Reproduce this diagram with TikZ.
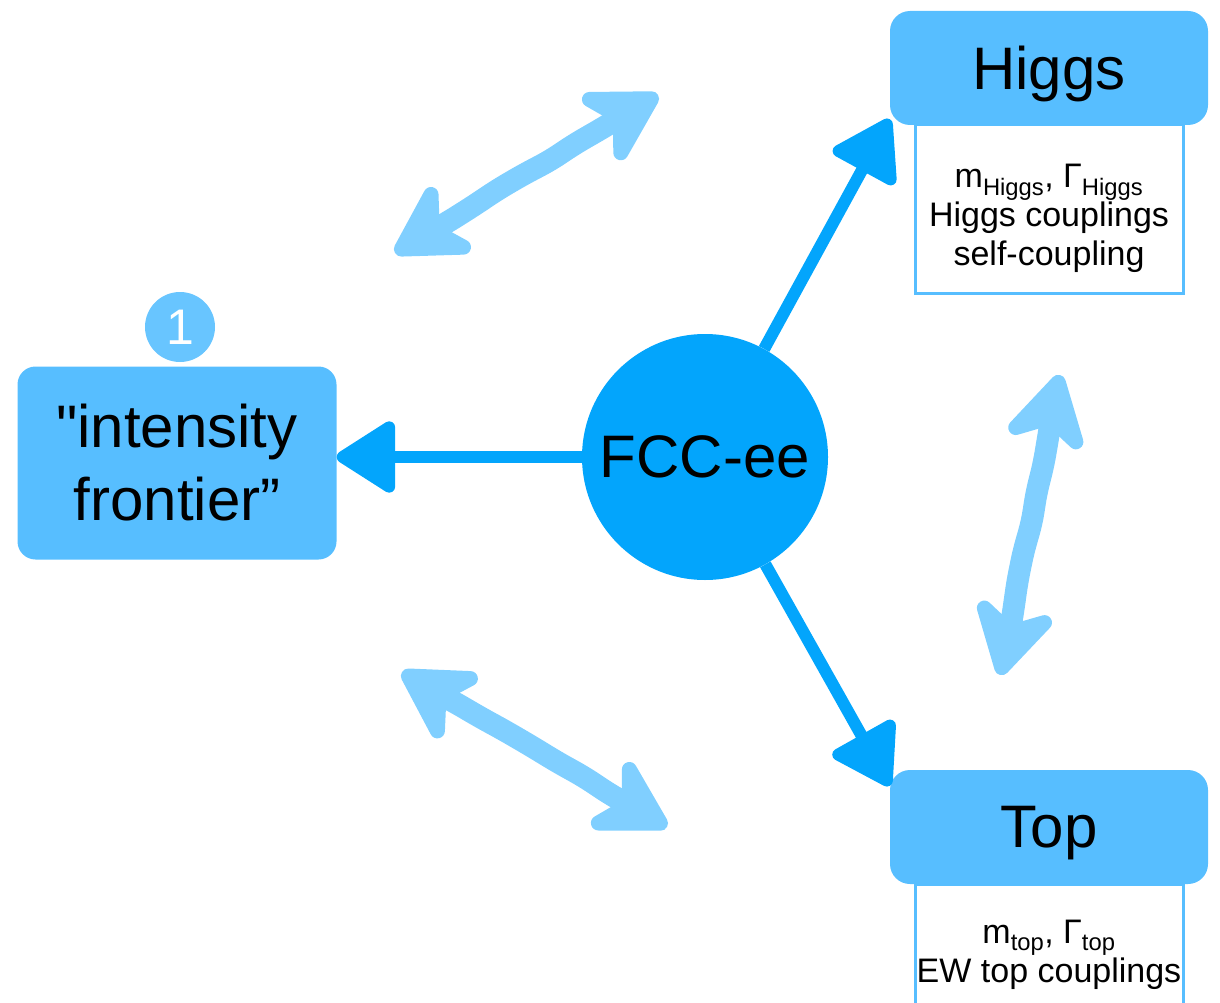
\documentclass[tikz,border=0pt]{standalone}
\usepackage{fontspec}
\setmainfont{Liberation Sans}[Ligatures=TeXOff]
\usepackage{tikz}
\usetikzlibrary{arrows.meta,decorations.pathmorphing}
\definecolor{boxBlue}{RGB}{87, 190, 255}
\definecolor{dotBlue}{RGB}{104, 197, 255}
\definecolor{coreBlue}{RGB}{3, 165, 252}
\definecolor{paleBlue}{RGB}{128, 207, 255}

\begin{document}
\begin{tikzpicture}[x=1pt,y=-1pt,
    headbox/.style={rectangle, rounded corners=20pt, fill=boxBlue, minimum width=318, minimum height=114, text depth=0pt, font=\fontsize{60}{72}\selectfont},
    infobox/.style={rectangle, draw=boxBlue, line width=3pt, fill=white, minimum width=268, anchor=north},
    infotext/.style={align=center, font=\fontsize{34}{39}\selectfont},
    link/.style={coreBlue, line width=12pt, -{Triangle[length=64pt,width=78pt,round]}},
    twoway/.style={paleBlue, line width=22pt, line cap=round, line join=round,
      {Stealth[length=88pt,width=100pt,inset=28pt,round]}-{Stealth[length=88pt,width=100pt,inset=28pt,round]},
      decorate, decoration={random steps, segment length=30pt, amplitude=1.5pt}, rounded corners=10pt}]
        \pgfmathsetseed{7}
        \clip (0,0) rectangle (1220,1003);
        % results boxes
        \node[infobox, minimum height=169] (higgsinfo) at (1049,123) {};
        \node[headbox] (higgs) at (1049,68) {Higgs};
        \node[infotext] (higgstext) at (1049,218) {m\textsubscript{Higgs}, Γ\textsubscript{Higgs}\\Higgs couplings\\self-coupling};
        \node[infobox, minimum height=200] (topinfo) at (1049,883) {};
        \node[headbox] (top) at (1049,827) {Top};
        \node[infotext] (toptext) at (1049,955) {m\textsubscript{top}, Γ\textsubscript{top}\\EW top couplings};
        \node[rectangle, rounded corners=18pt, fill=boxBlue, minimum width=319, minimum height=193, align=center, font=\fontsize{60}{73}\selectfont] (intens) at (177,463) {"intensity\\frontier”};
        \node[circle, fill=dotBlue, minimum size=70, inner sep=0, text=white, font=\fontsize{50}{60}\selectfont] (badge) at (180,327) {1};
        \node[circle, fill=coreBlue, minimum size=246, inner sep=0, font=\fontsize{60}{72}\selectfont] (fcc) at (705,457) {FCC-ee};
        % links from the centre
        \draw[link] (fcc) -- (fcc -| intens.east);
        \draw[link] (fcc) -- ([yshift=6pt]higgs.south west);
        \draw[link] (fcc) -- ([yshift=-16pt]top.north west);
        % two-way arrows
        \coordinate (nwA) at (395,253);
        \coordinate (nwB) at (658,95);
        \coordinate (swA) at (402,672);
        \coordinate (swB) at (667,827);
        \coordinate (eA) at (1060,375);
        \coordinate (eB) at (1000,675);
        \draw[twoway] (nwA) -- (nwB);
        \draw[twoway] (swA) -- (swB);
        \draw[twoway] (eA) -- (eB);
      \end{tikzpicture}
\end{document}
